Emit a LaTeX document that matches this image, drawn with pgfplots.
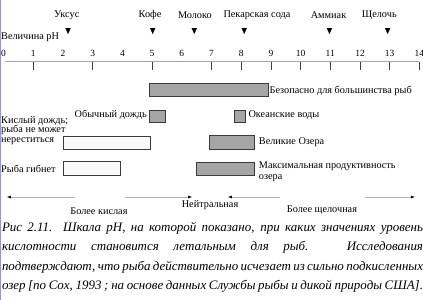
\documentclass[border=0pt]{standalone}
\usepackage{fontspec}
\setmainfont{Liberation Serif}
\usepackage{pgfplots}
\pgfplotsset{compat=1.18}
\usetikzlibrary{arrows.meta}
\definecolor{bargray}{RGB}{165,165,165}
\definecolor{edge}{RGB}{60,60,60}
\definecolor{scanblue}{RGB}{150,150,210}
\newcommand\lab{\fontsize{10.3}{9.5}\selectfont}
\begin{document}
\begin{tikzpicture}
\begin{axis}[
  x=29.7bp, y=1bp, y dir=reverse,
  xmin=-0.1212, xmax=14.1212, ymin=61.7, ymax=300,
  axis x line*=top, axis y line=none,
  axis line style={draw=none},
  xtick={0,...,14}, major tick length=0pt,
  extra x ticks={1,3,5,7,8,9,10,11,12,13,14}, extra x tick labels={},
  extra x tick style={major tick length=8bp, tick align=inside, tick style={black!75, line width=0.6bp}},
  ytick=\empty,
  xticklabel style={font=\fontsize{9.5}{9.5}\selectfont, yshift=2bp},
  /pgf/number format/assume math mode=true,
  clip=false,
]
% scale line
\draw[black!35, line width=0.6bp] (axis cs:0.05,61.7) -- (axis cs:14,61.7);
% left scan border
\draw[scanblue, line width=1bp] (axis cs:-0.095,0) -- (axis cs:-0.095,300);

% bars
\addplot[fill=bargray, draw=edge, line width=0.7bp] coordinates {(4.9,83.3) (8.9,83.3) (8.9,96.7) (4.9,96.7)} -- cycle;
\addplot[fill=bargray, draw=edge, line width=0.7bp] coordinates {(4.9,110) (5.43,110) (5.43,122.7) (4.9,122.7)} -- cycle;
\addplot[fill=bargray, draw=edge, line width=0.7bp] coordinates {(7.77,110) (8.13,110) (8.13,122.7) (7.77,122.7)} -- cycle;
\addplot[fill=bargray, draw=edge, line width=0.7bp] coordinates {(6.92,135.7) (8.44,135.7) (8.44,149.3) (6.92,149.3)} -- cycle;
\addplot[fill=bargray, draw=edge, line width=0.7bp] coordinates {(6.48,162.3) (8.44,162.3) (8.44,175) (6.48,175)} -- cycle;
\addplot[fill=gray!5, draw=edge, line width=0.7bp] coordinates {(2.0,136) (4.93,136) (4.93,149.3) (2.0,149.3)} -- cycle;
\addplot[fill=gray!5, draw=edge, line width=0.7bp] coordinates {(2.0,161.7) (3.92,161.7) (3.92,175) (2.0,175)} -- cycle;

% markers for substances
\addplot[only marks, mark=triangle*, mark size=2.7bp, mark options={rotate=180, yscale=1.3, fill=black, draw=black}]
  coordinates {(2.17,30) (5.02,30) (6.42,30) (8.10,30) (10.97,30) (12.93,30)};

% substance labels
\node[font=\lab] at (axis cs:2.125,15) {Уксус};
\node[font=\lab] at (axis cs:4.93,15) {Кофе};
\node[font=\lab] at (axis cs:6.44,15) {Молоко};
\node[font=\lab] at (axis cs:8.53,15) {Пекарская сода};
\node[font=\lab] at (axis cs:10.94,15) {Аммиак};
\node[font=\lab] at (axis cs:12.65,15) {Щелочь};
\node[font=\lab, anchor=west, inner sep=0pt] at (axis cs:-0.088,37) {Величина pH};

% bar labels
\node[font=\lab, anchor=west, inner sep=0pt] at (axis cs:8.95,90.7) {Безопасно для большинства рыб};
\node[font=\lab, anchor=east, inner sep=0pt] at (axis cs:4.83,115) {Обычный дождь};
\node[font=\lab, anchor=west, inner sep=0pt] at (axis cs:8.24,115) {Океанские воды};
\node[font=\lab, anchor=west, inner sep=0pt, align=left] at (axis cs:-0.088,130.5) {Кислый дождь;\\рыба не может\\нереститься};
\node[font=\lab, anchor=west, inner sep=0pt] at (axis cs:-0.088,169) {Рыба гибнет};
\node[font=\lab, anchor=west, inner sep=0pt] at (axis cs:8.59,142.3) {Великие Озера};
\node[font=\fontsize{10.3}{11}\selectfont, anchor=west, inner sep=0pt, align=left] at (axis cs:8.59,172) {Максимальная продуктивность\\озера};

% acidity arrows
\draw[black!30, line width=0.6bp, {Latex[black,length=4bp,width=3bp]}-] (axis cs:0.11,197) -- (axis cs:2.4,197);
\draw[black!30, line width=0.6bp, -{Latex[black,length=4bp,width=3bp]}] (axis cs:4.09,197) -- (axis cs:6.35,197);
\draw[black!30, line width=0.6bp, {Latex[black,length=4bp,width=3bp]}-] (axis cs:7.55,197) -- (axis cs:9.31,197);
\draw[black!30, line width=0.6bp, -{Latex[black,length=4bp,width=3bp]}] (axis cs:12.17,197) -- (axis cs:13.85,197);
\node[font=\lab] at (axis cs:3.21,211) {Более кислая};
\node[font=\lab] at (axis cs:6.95,205) {Нейтральная};
\node[font=\lab] at (axis cs:10.72,210) {Более щелочная};

% caption
\node[anchor=north west, inner sep=0pt, text width=421bp, align=justify,
      font=\fontsize{13}{19.5}\selectfont\itshape] at (axis cs:-0.06,222)
  {\parfillskip=0pt Рис 2.11. Шкала рН, на которой показано, при каких значениях уровень\linebreak
   кислотности становится летальным для рыб. Исследования\linebreak
   подтверждают, что рыба действительно исчезает из сильно подкисленных\linebreak
   озер [по Cox, 1993 ; на основе данных Службы рыбы и дикой природы США].};

\coordinate (bbSW) at (axis cs:-0.1212,300);
\coordinate (bbNE) at (axis cs:14.1212,0);
\end{axis}
\pgfresetboundingbox
\path (bbSW) rectangle (bbNE);
\end{tikzpicture}
\end{document}
